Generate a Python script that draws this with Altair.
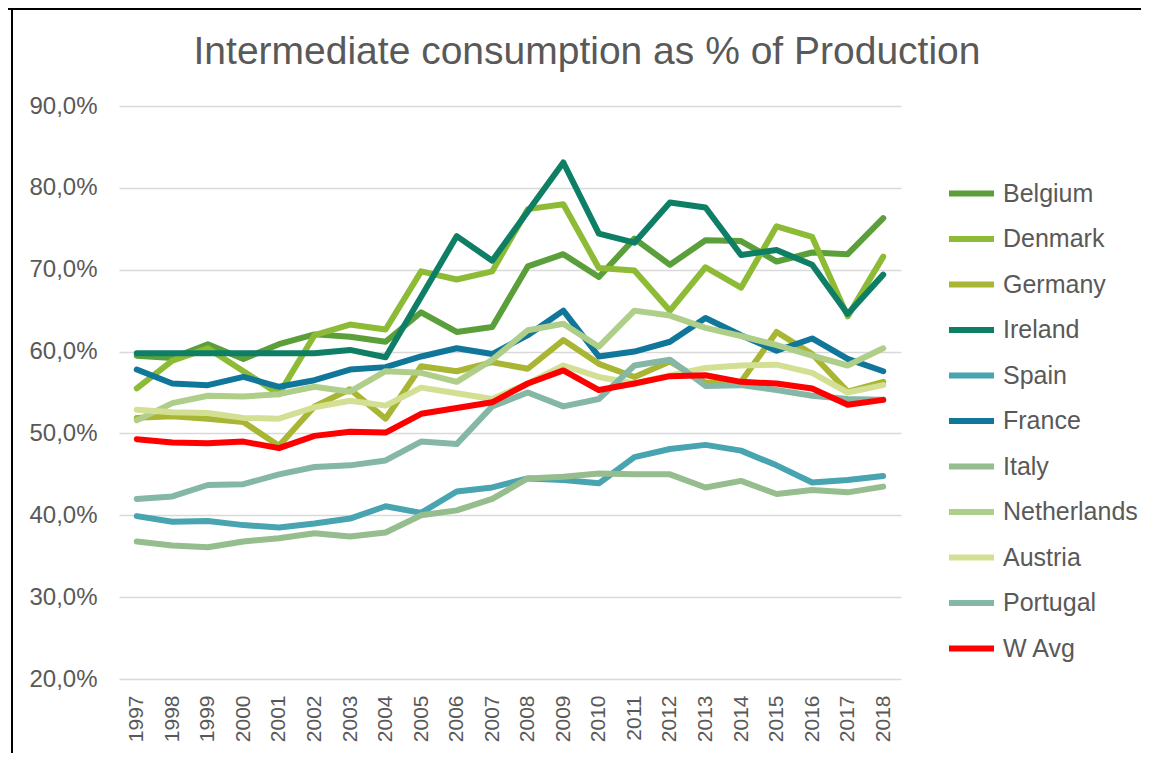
import altair as alt
import pandas as pd

years = [str(y) for y in range(1997, 2019)]
countries = ["Belgium", "Denmark", "Germany", "Ireland", "Spain", "France",
             "Italy", "Netherlands", "Austria", "Portugal", "W Avg"]
colors = ["#5B9F3B", "#8DBB35", "#A9B633", "#0E7F65", "#47A4B0", "#10779A",
          "#95BD8E", "#AFCE8A", "#D3E094", "#85B7A6", "#FF0000"]
widths = [6, 6, 3.5, 3.5, 3.5, 3.5, 3.5, 3.5, 3.5, 3.5, 7]
title_text = "Intermediate consumption as % of Production"

belgium = [59.5, 59.2, 60.9, 59.1, 60.9, 62.1, 61.8, 61.2, 64.8, 62.4, 63.0, 70.4, 71.9, 69.1, 73.8, 70.6, 73.6, 73.5, 71.0, 72.1, 71.9, 76.3]
denmark = [55.5, 58.9, 60.4, 57.6, 54.8, 62.0, 63.3, 62.7, 69.8, 68.8, 69.8, 77.4, 78.0, 70.2, 69.9, 65.0, 70.3, 67.8, 75.3, 74.0, 64.3, 71.6]
germany = [51.9, 52.1, 51.8, 51.4, 48.5, 53.3, 55.4, 51.8, 58.2, 57.6, 58.7, 57.9, 61.4, 58.5, 56.9, 58.8, 56.2, 56.3, 62.4, 59.7, 55.1, 56.3]
ireland = [59.8, 59.8, 59.8, 59.8, 59.8, 59.8, 60.2, 59.3, 66.7, 74.1, 71.1, 77.1, 83.1, 74.4, 73.3, 78.2, 77.6, 71.8, 72.4, 70.6, 64.6, 69.4]
spain = [39.9, 39.2, 39.3, 38.8, 38.5, 39.0, 39.6, 41.1, 40.3, 42.9, 43.4, 44.5, 44.3, 43.9, 47.1, 48.1, 48.6, 47.9, 46.1, 44.0, 44.3, 44.8]
france = [57.8, 56.1, 55.9, 56.9, 55.7, 56.5, 57.8, 58.1, 59.4, 60.4, 59.7, 62.0, 65.0, 59.4, 60.0, 61.2, 64.1, 62.0, 60.1, 61.6, 59.1, 57.6]
italy = [36.8, 36.3, 36.1, 36.8, 37.2, 37.8, 37.4, 37.9, 40.0, 40.6, 42.0, 44.5, 44.7, 45.1, 45.0, 45.0, 43.4, 44.2, 42.6, 43.1, 42.8, 43.5]
netherlands = [51.6, 53.7, 54.6, 54.5, 54.8, 55.7, 55.1, 57.6, 57.4, 56.3, 59.0, 62.6, 63.4, 60.6, 65.0, 64.4, 62.9, 61.9, 60.8, 59.5, 58.3, 60.4]
austria = [52.9, 52.6, 52.5, 51.9, 51.8, 53.2, 54.0, 53.4, 55.6, 54.9, 54.2, 56.1, 58.3, 56.9, 56.1, 57.1, 58.0, 58.3, 58.4, 57.4, 55.0, 55.9]
portugal = [42.0, 42.3, 43.7, 43.8, 45.0, 45.9, 46.1, 46.7, 49.0, 48.7, 53.3, 55.0, 53.3, 54.2, 58.3, 59.0, 55.8, 55.9, 55.3, 54.6, 54.2, 54.1]
w_avg = [49.3, 48.9, 48.8, 49.0, 48.2, 49.7, 50.2, 50.1, 52.4, 53.1, 53.8, 56.1, 57.7, 55.3, 56.1, 57.0, 57.1, 56.3, 56.1, 55.5, 53.5, 54.1]

series = [belgium, denmark, germany, ireland, spain, france,
          italy, netherlands, austria, portugal, w_avg]

rows = []
for c, vals in zip(countries, series):
    for y, v in zip(years, vals):
        rows.append({"Year": y, "Country": c, "Value": v})
df = pd.DataFrame(rows)
one = pd.DataFrame({"t": [title_text]})

GREY = "#595959"
FONT = "Liberation Sans"

legend = alt.Legend(title=None, orient="none", legendX=827, legendY=62)

lines = alt.Chart(df).mark_line(strokeCap="round", strokeJoin="round").encode(
    x=alt.X("Year:O", sort=years, title=None,
            scale=alt.Scale(type="point", padding=0.5),
            axis=alt.Axis(labelAngle=270, labelFontSize=21, labelColor=GREY,
                          labelFont=FONT, labelPadding=16, ticks=False,
                          domain=False, grid=False, labelBaseline="middle",
                          labelAlign="right")),
    y=alt.Y("Value:Q", title=None,
            scale=alt.Scale(domain=[20, 90], nice=False, zero=False),
            axis=alt.Axis(values=[20, 30, 40, 50, 60, 70, 80, 90],
                          labelExpr="replace(format(datum.value, '.1f'), '.', ',') + '%'",
                          labelFontSize=24, labelColor=GREY, labelFont=FONT,
                          labelPadding=22, ticks=False, domain=False,
                          grid=True, gridColor="#D9D9D9", gridWidth=1.5)),
    color=alt.Color("Country:N", sort=countries,
                    scale=alt.Scale(domain=countries, range=colors),
                    legend=legend),
    strokeWidth=alt.StrokeWidth("Country:N", sort=countries,
                                scale=alt.Scale(domain=countries, range=widths),
                                legend=legend),
    order=alt.Order("Year:O"),
)

left_border = alt.Chart(one).mark_rule(color="black", strokeWidth=2).encode(
    x=alt.value(-107), y=alt.value(-98), y2=alt.value(660)
)
top_border = alt.Chart(one).mark_rule(color="black", strokeWidth=2).encode(
    x=alt.value(-111), x2=alt.value(1030), y=alt.value(-97)
)
title = alt.Chart(one).mark_text(
    fontSize=39, font=FONT, color=GREY, align="center", baseline="alphabetic"
).encode(
    x=alt.value(468), y=alt.value(-42), text="t:N"
)

chart = alt.layer(top_border, left_border, title, lines).properties(
    width=782,
    height=573,
    padding={"left": 111, "top": 98, "right": 240, "bottom": 74},
    autosize=alt.AutoSizeParams(type="none"),
).configure_view(stroke=None).configure_legend(
    labelFontSize=25, labelFont=FONT, labelColor=GREY,
    symbolType="stroke", symbolSize=2025, labelOffset=6,
    rowPadding=6.5, labelLimit=300,
)

chart.save("out.html", embed_options={"renderer": "svg", "actions": False})
